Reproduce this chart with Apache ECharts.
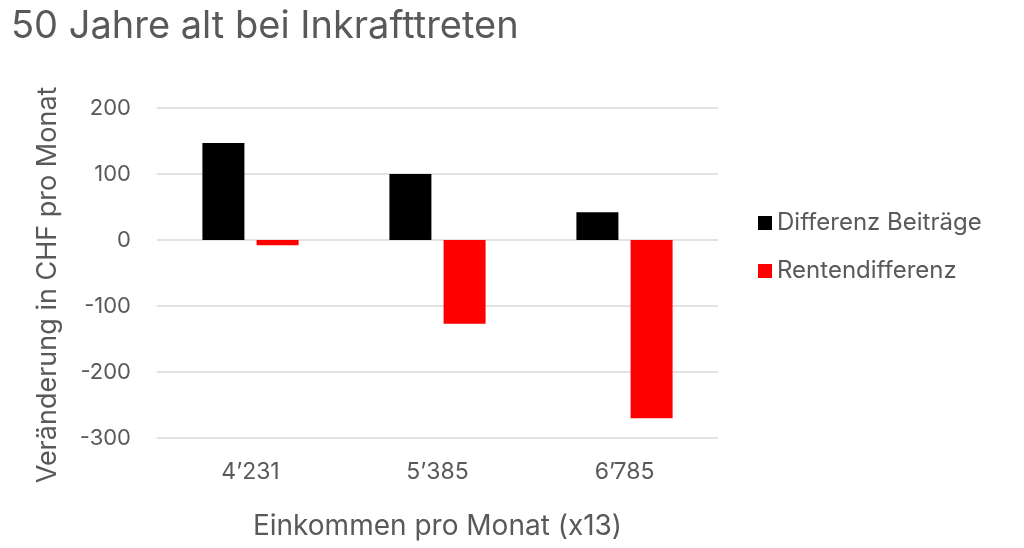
<!DOCTYPE html>
<html><head><meta charset="utf-8">
<script src="https://cdn.jsdelivr.net/npm/echarts@6/dist/echarts.min.js"></script>
<style>html,body{margin:0;padding:0;background:#fff}#c{width:1024px;height:548px}</style>
</head><body><div id="c"></div>
<script>
const categories = ["4’231", "5’385", "6’785"];
const beitraege = [147, 100, 42];
const renten = [-8, -127, -270];
const yTicks = { min: -300, max: 200, interval: 100 };
const FONT = "Inter";
const TXT = "#595959";
const chart = echarts.init(document.getElementById('c'));
chart.setOption({
  animation: false,
  textStyle: { fontFamily: FONT },
  title: { text: "50 Jahre alt bei Inkrafttreten", left: 6, top: 3,
    textStyle: { fontFamily: FONT, fontSize: 38, fontWeight: 'normal', color: TXT } },
  legend: { orient: 'vertical', left: 753, top: 206, itemGap: 24, itemWidth: 14, itemHeight: 14,
    icon: 'rect', textStyle: { fontFamily: FONT, fontSize: 24, color: TXT },
    data: ["Differenz Beiträge", "Rentendifferenz"] },
  grid: { left: 157, right: 306, top: 108, bottom: 110 },
  xAxis: { type: 'category', data: categories,
    axisLine: { show: false, onZero: false }, axisTick: { show: false },
    axisLabel: { fontFamily: FONT, fontSize: 23, color: TXT, margin: 23 },
    name: "Einkommen pro Monat (x13)", nameLocation: 'middle', nameGap: 75,
    nameTextStyle: { fontFamily: FONT, fontSize: 28, color: TXT } },
  yAxis: { type: 'value', min: yTicks.min, max: yTicks.max, interval: yTicks.interval,
    axisLine: { show: false }, axisTick: { show: false },
    splitLine: { lineStyle: { color: '#d9d9d9', width: 1.5 } },
    axisLabel: { fontFamily: FONT, fontSize: 22, color: TXT, margin: 26 } },
  graphic: [{ type: 'text', x: 48, y: 285, rotation: Math.PI / 2,
    style: { text: "Veränderung in CHF pro Monat", fontFamily: FONT, fontSize: 27, fill: TXT,
      textAlign: 'center', textVerticalAlign: 'middle' } }],
  series: [
    { name: "Differenz Beiträge", type: 'bar', data: beitraege, barWidth: 42, barGap: '29%',
      itemStyle: { color: '#000000' } },
    { name: "Rentendifferenz", type: 'bar', data: renten, barWidth: 42,
      itemStyle: { color: '#ff0000' } }
  ]
});
</script></body></html>
